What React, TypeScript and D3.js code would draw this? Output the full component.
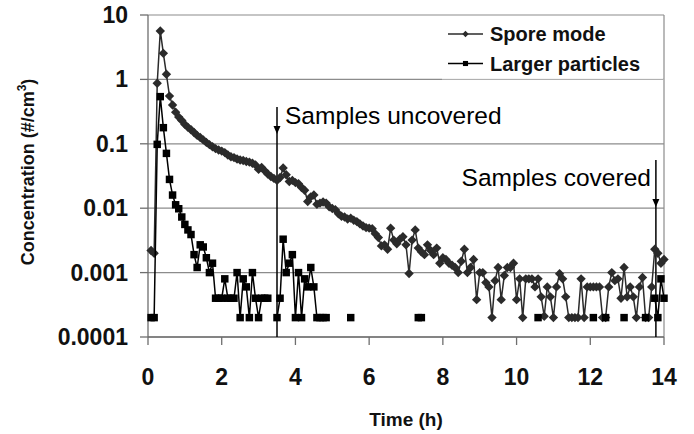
import React from "react";
import * as d3 from "d3";

// 5-minute sampling grid (index i -> i/12 h)
const STEP_H = 1 / 12;

const sporeMode: (number | null)[] = [
  null, 0.0022, 0.002, 0.87, 5.65, 2.54, 1.2, 0.55, 0.40, 0.31, 0.26, 0.23,
  0.20, 0.18, 0.165, 0.15, 0.135, 0.125, 0.115, 0.105, 0.097, 0.09, 0.084, 0.08,
  0.077, 0.073, 0.067, 0.063, 0.061, 0.058, 0.056, 0.055, 0.053, 0.052, 0.05, 0.047,
  0.040, 0.043, 0.038, 0.034, 0.031, 0.029, 0.027, 0.030, 0.042, 0.033, 0.026, 0.027,
  0.025, 0.024, 0.021, 0.019, 0.0127, 0.015, 0.016, 0.0115, 0.012, 0.0125, 0.012, 0.0105,
  0.0099, 0.0095, 0.0082, 0.0075, 0.0073, 0.0068, 0.007, 0.0065, 0.0062, 0.0057, 0.0053, 0.005,
  0.0049, 0.0048, 0.004, 0.0035, 0.0026, 0.0027, 0.0023, 0.0049, 0.0032, 0.0028, 0.0033, 0.0036,
  0.0027, 0.00097, 0.0032, 0.0046, 0.0024, 0.0021, 0.0019, 0.0027, 0.0022, 0.0019, 0.0024, 0.0014,
  0.0017, 0.0016, 0.0014, 0.0013, 0.0012, 0.001, 0.0015, 0.0023, 0.001, 0.0012, 0.0016, 0.00038,
  0.001, 0.001, 0.0007, 0.0006, 0.0002, 0.00075, 0.0012, 0.00038, 0.0009, 0.0012, 0.0012, 0.0014,
  0.00038, 0.0008, 0.0002, 0.0008, 0.0008, 0.0008, 0.0006, 0.0008, 0.00042, 0.00021, 0.0006, 0.00042,
  0.0002, 0.0006, 0.00096, 0.0008, 0.00042, 0.0002, 0.0002, 0.0002, 0.0002, 0.0008, 0.0002, 0.0006,
  0.0006, 0.0006, 0.0006, 0.0006, 0.0002, 0.0002, 0.0006, 0.001, 0.00075, 0.0008, 0.0004, 0.0012,
  0.00042, 0.0006, 0.00042, 0.0002, 0.0006, 0.00084, 0.0002, 0.0002, 0.0006, 0.0023, 0.002, 0.0014,
  0.0016,
];

const _ = null;
const largerParticles: (number | null)[] = [
  _, 0.0002, 0.0002, 0.098, 0.54, 0.178, 0.071, 0.028, 0.016, 0.0113, 0.0098, 0.0073,
  0.0056, 0.0046, 0.0039, 0.0019, 0.0012, 0.0027, 0.0025, 0.0017, 0.001, 0.0014, 0.0004, 0.0004,
  0.0004, 0.0008, 0.0004, 0.0004, 0.0004, 0.001, 0.0002, 0.0008, 0.0006, 0.0002, 0.001, 0.0004,
  0.0002, 0.0004, 0.0004, 0.0004, _, _, 0.0002, 0.0004, 0.0033, 0.001, 0.0014, 0.0019,
  0.0002, 0.001, 0.0002, 0.0008, 0.0006, 0.0012, 0.0006, 0.0002, 0.0002, 0.0002, 0.0002, _,
  _, _, _, _, _, _, 0.0002, _, _, _, _, _,
  _, _, _, _, _, _, _, _, _, _, _, _,
  _, _, _, _, 0.0002, 0.0002, _, _, _, _, _, _,
  _, _, _, _, _, _, _, _, _, _, _, _,
  _, _, _, _, _, _, _, _, _, _, _, _,
  _, _, _, _, _, _, _, 0.0002, _, _, _, _,
  _, _, _, _, _, _, _, _, _, _, _, _,
  _, 0.0002, _, _, _, 0.0002, _, _, _, _, _, 0.0002,
  _, _, _, _, _, _, 0.0002, _, _, 0.0004, 0.0002, 0.0008,
  0.0004,
];

const xTicks = [0, 2, 4, 6, 8, 10, 12, 14];
const yTicks = [0.0001, 0.001, 0.01, 0.1, 1, 10];
const yTickLabels = ["0.0001", "0.001", "0.01", "0.1", "1", "10"];
const annotations = [
  { t: 3.5, label: "Samples uncovered" },
  { t: 13.78, label: "Samples covered" },
];
const seriesNames = ["Spore mode", "Larger particles"];

const W = 694;
const H = 434;
const L = 148;
const R = 664;
const T = 15;
const B = 337;
const FONT = "'Liberation Sans', Arial, Helvetica, sans-serif";

export default function App() {
  const x = d3.scaleLinear().domain([0, 14]).range([L, R]);
  const y = d3.scaleLog().domain([0.0001, 10]).range([B, T]);

  type P = { t: number; v: number | null };
  const toPts = (arr: (number | null)[]): P[] =>
    arr.map((v, i) => ({ t: i * STEP_H, v }));
  const spore = toPts(sporeMode);
  const larger = toPts(largerParticles);

  const line = d3
    .line<P>()
    .defined((d) => d.v !== null && d.v > 0)
    .x((d) => x(d.t))
    .y((d) => y(d.v as number));

  const diamond = d3.symbol(d3.symbolSquare, 44)();
  const square = d3.symbol(d3.symbolSquare, 56)();
  const diamondSmall = d3.symbol(d3.symbolSquare, 20)();
  const squareSmall = d3.symbol(d3.symbolSquare, 26)();

  const sporeColor = "#2b2b2b";
  const largerColor = "#000000";
  const gridColor = "#8c8c8c";

  return (
    <svg
      width={W}
      height={H}
      style={{ position: "absolute", left: 0, top: 0, background: "#fff" }}
      fontFamily={FONT}
    >
      <rect x={0} y={0} width={W} height={H} fill="#fff" />
      {/* gridlines */}
      {yTicks.map((v) => (
        <line
          key={"g" + v}
          x1={L}
          x2={R}
          y1={y(v)}
          y2={y(v)}
          stroke={gridColor}
          strokeWidth={1.2}
        />
      ))}
      {/* right border */}
      <line x1={R} x2={R} y1={T} y2={B} stroke={gridColor} strokeWidth={1.2} />
      {/* axes */}
      <line x1={L} x2={L} y1={T} y2={B} stroke="#6e6e6e" strokeWidth={1.3} />
      <line x1={L} x2={R} y1={B} y2={B} stroke="#6e6e6e" strokeWidth={1.3} />
      {yTicks.map((v, i) => (
        <g key={"yt" + v}>
          <line x1={L - 8} x2={L} y1={y(v)} y2={y(v)} stroke="#6e6e6e" strokeWidth={1.3} />
          <text
            x={128}
            y={y(v) + 8}
            textAnchor="end"
            fontSize={23}
            fontWeight="bold"
            fill="#111"
          >
            {yTickLabels[i]}
          </text>
        </g>
      ))}
      {xTicks.map((v) => (
        <g key={"xt" + v}>
          <line x1={x(v)} x2={x(v)} y1={B} y2={B + 8} stroke="#6e6e6e" strokeWidth={1.3} />
          <text
            x={x(v)}
            y={385}
            textAnchor="middle"
            fontSize={23}
            fontWeight="bold"
            fill="#111"
          >
            {v}
          </text>
        </g>
      ))}
      <text
        x={(L + R) / 2}
        y={426}
        textAnchor="middle"
        fontSize={19}
        fontWeight="bold"
        fill="#111"
      >
        Time (h)
      </text>
      <text
        transform={`translate(34, 172) rotate(-90)`}
        textAnchor="middle"
        fontSize={18}
        fontWeight="bold"
        fill="#111"
      >
        Concentration (#/cm
        <tspan dy={-8} fontSize={12}>
          3
        </tspan>
        <tspan dy={8}>)</tspan>
      </text>

      {/* legend */}
      <rect x={442} y={T + 1} width={R - 442 - 1} height={y(1) - T - 1.5} fill="#fff" />
      <line x1={442} x2={R} y1={y(1)} y2={y(1)} stroke="#b5b5b5" strokeWidth={1} />
      <line x1={448} x2={483} y1={34} y2={34} stroke={sporeColor} strokeWidth={1.4} />
      <path d={diamondSmall} transform={`translate(465.5,34) rotate(45)`} fill={sporeColor} />
      <text x={490} y={41} fontSize={20} fontWeight="bold" fill="#111">
        {seriesNames[0]}
      </text>
      <line x1={448} x2={483} y1={63.5} y2={63.5} stroke={largerColor} strokeWidth={1.4} />
      <path d={squareSmall} transform={`translate(465.5,63.5)`} fill={largerColor} />
      <text x={490} y={70.5} fontSize={20} fontWeight="bold" fill="#111">
        {seriesNames[1]}
      </text>

      {/* annotations */}
      <line x1={x(annotations[0].t)} x2={x(annotations[0].t)} y1={107} y2={B} stroke="#000" strokeWidth={1.5} />
      <path
        d={`M${x(annotations[0].t) - 3.5},${126} L${x(annotations[0].t) + 3.5},${126} L${x(annotations[0].t)},${134} Z`}
        fill="#000"
      />
      <text x={x(annotations[0].t) + 8} y={124} fontSize={24.5} fill="#000">
        {annotations[0].label}
      </text>
      <line x1={x(annotations[1].t)} x2={x(annotations[1].t)} y1={160} y2={B} stroke="#000" strokeWidth={1.5} />
      <path
        d={`M${x(annotations[1].t) - 3.5},${199} L${x(annotations[1].t) + 3.5},${199} L${x(annotations[1].t)},${207} Z`}
        fill="#000"
      />
      <text x={x(annotations[1].t) - 5} y={186} textAnchor="end" fontSize={24.5} fill="#000">
        {annotations[1].label}
      </text>

      {/* series */}
      <path d={line(spore) || ""} fill="none" stroke={sporeColor} strokeWidth={1.5} />
      {spore
        .filter((d) => d.v !== null)
        .map((d, i) => (
          <path
            key={"s" + i}
            d={diamond}
            transform={`translate(${x(d.t)},${y(d.v as number)}) rotate(45)`}
            fill={sporeColor}
          />
        ))}
      <path d={line(larger) || ""} fill="none" stroke={largerColor} strokeWidth={1.5} />
      {larger
        .filter((d) => d.v !== null)
        .map((d, i) => (
          <path
            key={"l" + i}
            d={square}
            transform={`translate(${x(d.t)},${y(d.v as number)})`}
            fill={largerColor}
          />
        ))}
    </svg>
  );
}
